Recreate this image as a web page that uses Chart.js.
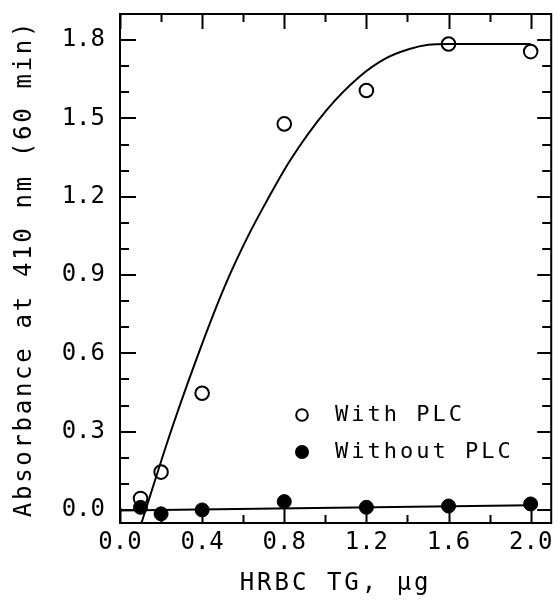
<!DOCTYPE html>
<html>
<head>
<meta charset="utf-8">
<script src="https://cdn.jsdelivr.net/npm/chart.js@4/dist/chart.umd.min.js"></script>
<style>
html,body{margin:0;padding:0;background:#fff;}
#wrap{width:560px;height:600px;}
</style>
</head>
<body>
<div id="wrap"><canvas id="c" width="560" height="600"></canvas></div>
<script>
// ---- data ----
const doseX = [0.1, 0.2, 0.4, 0.8, 1.2, 1.6, 2.0];
const withPLC = [0.044, 0.145, 0.447, 1.479, 1.607, 1.785, 1.756];
const withoutPLC = [0.010, -0.015, 0.000, 0.032, 0.010, 0.015, 0.023];

// fitted curve
const fitWithX = [0.104, 0.253, 0.413, 0.509, 0.621, 0.717, 0.829, 1.006, 1.166, 1.294, 1.406, 1.502, 1.598, 2.0];
const fitWithY = [-0.051, 0.313, 0.664, 0.855, 1.045, 1.187, 1.340, 1.532, 1.660, 1.730, 1.765, 1.782, 1.785, 1.785];
const fitWithoutX = [0.0, 2.0];
const fitWithoutY = [-0.002, 0.018];

// axes
const xMajorTicks = [0.0, 0.4, 0.8, 1.2, 1.6, 2.0];
const xMinorTicks = [0.2, 0.6, 1.0, 1.4, 1.8];
const yMajorTicks = [0.0, 0.3, 0.6, 0.9, 1.2, 1.5, 1.8];
const yMinorTicks = [0.1, 0.2, 0.4, 0.5, 0.7, 0.8, 1.0, 1.1, 1.3, 1.4, 1.6, 1.7];
const xTitle = 'HRBC TG, \u03BCg';
const yTitle = 'Absorbance at 410 nm (60 min)';
const seriesLabels = ['With PLC', 'Without PLC'];

const toPts = (xs, ys) => xs.map((v, i) => ({x: v, y: ys[i]}));

Chart.defaults.font.family = "'DejaVu Sans Mono', monospace";
Chart.defaults.color = '#000';

// legend glyphs (wide box so text sits further from the marker)
function legendGlyph(filled) {
  const c = document.createElement('canvas');
  c.width = 44; c.height = 20;
  const g = c.getContext('2d');
  g.beginPath();
  g.arc(22, 10, filled ? 7 : 5.8, 0, Math.PI * 2);
  if (filled) { g.fillStyle = '#000'; g.fill(); }
  else { g.lineWidth = 2; g.strokeStyle = '#000'; g.stroke(); }
  return c;
}
const glyphs = [legendGlyph(false), legendGlyph(true)];

function withSpacing(obj, name, sp) {
  if (!obj || obj['__sp_' + name]) return;
  const orig = obj[name];
  obj[name] = function () {
    const c = this.ctx;
    const prev = c.letterSpacing;
    c.letterSpacing = sp;
    try { return orig.apply(this, arguments); }
    finally { c.letterSpacing = prev; }
  };
  obj['__sp_' + name] = true;
}

const framePlugin = {
  id: 'frameTicks',
  afterLayout(chart) {
    const a = chart.chartArea;
    const lg = chart.legend;
    if (lg) {
      lg.left = a.left + 145;
      lg.top = a.top + 375;
      lg.width = 300;
      lg.height = 120;
      lg.right = lg.left + lg.width;
      lg.bottom = lg.top + lg.height;
      withSpacing(lg, 'draw', '3px');
    }
    withSpacing(chart.scales.x, 'drawTitle', '3px');
    withSpacing(chart.scales.y, 'drawTitle', '2.7px');
  },
  afterDraw(chart) {
    const {ctx, chartArea: a, scales: {x, y}} = chart;
    ctx.save();
    ctx.strokeStyle = '#000';
    ctx.lineWidth = 2;
    ctx.beginPath();
    const vx = (vals, len) => vals.forEach(v => {
      const p = Math.round(x.getPixelForValue(v)) + 0.5;
      ctx.moveTo(p, a.bottom); ctx.lineTo(p, a.bottom - len);
      ctx.moveTo(p, a.top); ctx.lineTo(p, a.top + len);
    });
    const hy = (vals, lenL, lenR) => vals.forEach(v => {
      const p = Math.round(y.getPixelForValue(v));
      ctx.moveTo(a.left, p); ctx.lineTo(a.left + lenL, p);
      ctx.moveTo(a.right, p); ctx.lineTo(a.right - lenR, p);
    });
    vx(xMajorTicks, 15);
    vx(xMinorTicks, 8);
    hy(yMajorTicks, 16, 14);
    hy(yMinorTicks, 9, 9);
    ctx.stroke();
    ctx.strokeRect(a.left, a.top, a.right - a.left, a.bottom - a.top);
    ctx.restore();
  }
};

new Chart(document.getElementById('c'), {
  type: 'scatter',
  data: {
    datasets: [
      {
        label: seriesLabels[0],
        data: toPts(doseX, withPLC),
        pointStyle: 'circle',
        pointRadius: 6.8,
        pointBorderWidth: 2,
        pointBackgroundColor: 'rgba(0,0,0,0)',
        pointBorderColor: '#000',
        showLine: false
      },
      {
        label: seriesLabels[1],
        data: toPts(doseX, withoutPLC),
        pointStyle: 'circle',
        pointRadius: 7,
        pointBorderWidth: 1,
        pointBackgroundColor: '#000',
        pointBorderColor: '#000',
        showLine: false
      },
      {
        label: 'fit1',
        data: toPts(fitWithX, fitWithY),
        showLine: true,
        pointRadius: 0,
        borderColor: '#000',
        borderWidth: 2,
        cubicInterpolationMode: 'monotone'
      },
      {
        label: 'fit2',
        data: toPts(fitWithoutX, fitWithoutY),
        showLine: true,
        pointRadius: 0,
        borderColor: '#000',
        borderWidth: 2
      }
    ]
  },
  options: {
    responsive: false,
    animation: false,
    events: [],
    layout: {padding: {top: 14, right: 3, bottom: 0, left: 0}},
    plugins: {
      tooltip: {enabled: false},
      legend: {
        position: 'chartArea',
        align: 'start',
        labels: {
          usePointStyle: true,
          pointStyleWidth: 44,
          boxHeight: 9,
          padding: 15,
          font: {size: 22},
          color: '#000',
          filter: (item) => item.datasetIndex < 2,
          generateLabels(chart) {
            const items = Chart.defaults.plugins.legend.labels.generateLabels(chart);
            items.forEach(it => { if (it.datasetIndex < 2) it.pointStyle = glyphs[it.datasetIndex]; });
            return items;
          }
        }
      }
    },
    scales: {
      x: {
        type: 'linear',
        min: 0,
        max: 2.1,
        grid: {display: false, drawTicks: false},
        border: {display: false},
        afterBuildTicks: s => { s.ticks = xMajorTicks.map(v => ({value: v})); },
        afterFit: s => { s.height = 77; s.paddingLeft = 0; s.paddingRight = 0; },
        ticks: {
          autoSkip: false,
          maxRotation: 0,
          padding: 5,
          font: {size: 24},
          color: '#000',
          callback: v => Number(v).toFixed(1)
        },
        title: {display: true, text: xTitle, font: {size: 24}, color: '#000', padding: {top: 0, bottom: 2}}
      },
      y: {
        type: 'linear',
        min: -0.05,
        max: 1.9,
        grid: {display: false, drawTicks: false},
        border: {display: false},
        afterBuildTicks: s => { s.ticks = yMajorTicks.map(v => ({value: v})); },
        afterFit: s => { s.width = 120; s.paddingTop = 0; s.paddingBottom = 0; },
        ticks: {
          autoSkip: false,
          padding: 15,
          font: {size: 24},
          color: '#000',
          callback: v => Number(v).toFixed(1)
        },
        title: {display: true, text: yTitle, font: {size: 24}, color: '#000', padding: {top: 10, bottom: 0}}
      }
    }
  },
  plugins: [framePlugin]
});
</script>
</body>
</html>
